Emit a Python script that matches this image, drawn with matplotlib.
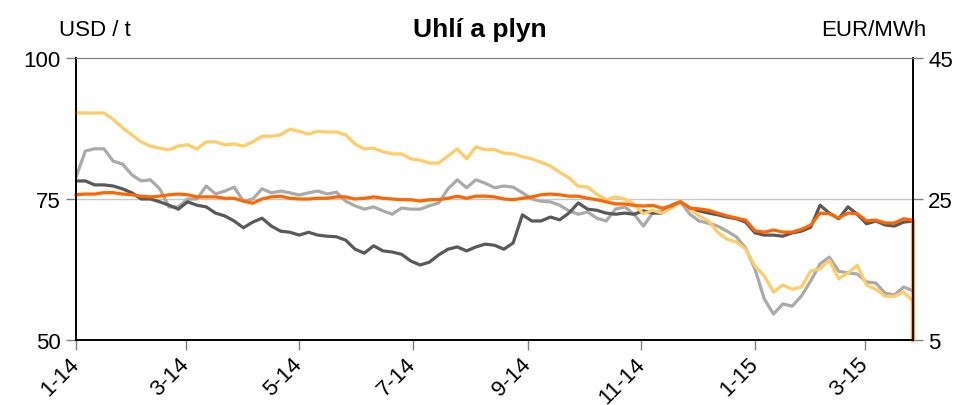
import matplotlib
matplotlib.use("Agg")
import matplotlib.pyplot as plt
import matplotlib.dates as mdates
from matplotlib.ticker import FuncFormatter
import pandas as pd

plt.rcParams["font.family"] = ["Liberation Sans", "DejaVu Sans"]

# x grid: every 5 days from 1 Jan 2014
dates = pd.date_range("2014-01-01", periods=91, freq="5D")

# coal, USD / t (left axis)
coal_dark = [
    78.2, 78.2, 77.5, 77.5, 77.3, 76.8, 76.1, 75.0, 75.0, 74.5,
    73.9, 73.2, 74.5, 73.9, 73.6, 72.5, 72.0, 71.1, 69.9, 70.9,
    71.6, 70.2, 69.3, 69.1, 68.6, 69.1, 68.6, 68.4, 68.3, 67.7,
    66.1, 65.4, 66.7, 65.8, 65.6, 65.2, 64.0, 63.3, 63.8, 65.1,
    66.1, 66.5, 65.8, 66.5, 67.0, 66.8, 66.1, 67.2, 72.2, 71.1,
    71.1, 71.8, 71.3, 72.5, 74.3, 73.2, 73.0, 72.5, 72.3, 72.5,
    72.3, 72.9, 72.5, 72.5, 73.8, 74.5, 73.4, 72.9, 72.5, 72.2,
    71.8, 71.5, 70.9, 69.0, 68.6, 68.6, 68.4, 69.0, 69.3, 70.0,
    73.9, 72.5, 71.5, 73.6, 72.3, 70.6, 71.1, 70.4, 70.2, 70.9,
    71.1,
]
coal_light = [
    78.9, 83.5, 83.9, 83.9, 81.7, 81.2, 79.3, 78.2, 78.4, 76.8,
    73.6, 73.6, 75.0, 75.0, 77.3, 75.9, 76.4, 77.1, 74.6, 75.0,
    76.8, 76.1, 76.4, 76.1, 75.7, 76.1, 76.4, 75.9, 76.2, 74.6,
    73.8, 73.2, 73.6, 72.9, 72.3, 73.4, 73.2, 73.2, 73.8, 74.3,
    76.8, 78.4, 77.0, 78.4, 77.8, 77.0, 77.3, 77.1, 76.1, 75.0,
    74.6, 74.5, 73.9, 72.9, 72.3, 72.7, 71.6, 71.1, 73.2, 73.6,
    72.3, 70.2, 72.5, 72.9, 73.9, 74.5, 72.3, 71.1, 70.7, 70.2,
    69.3, 68.3, 66.3, 62.6, 57.3, 54.6, 56.4, 56.0, 57.8, 60.5,
    63.5, 64.7, 62.2, 61.9, 61.7, 60.3, 60.1, 58.3, 58.0, 59.4,
    58.7,
]

# gas, EUR/MWh (right axis)
gas_yellow = [
    37.2, 37.2, 37.2, 37.2, 36.3, 35.1, 34.1, 33.1, 32.5, 32.2,
    32.0, 32.5, 32.7, 32.1, 33.1, 33.1, 32.7, 32.8, 32.5, 33.1,
    33.9, 33.9, 34.1, 34.9, 34.6, 34.2, 34.6, 34.5, 34.5, 34.1,
    32.8, 32.1, 32.2, 31.7, 31.4, 31.4, 30.7, 30.5, 30.1, 30.1,
    31.1, 32.1, 30.7, 32.4, 32.0, 32.0, 31.5, 31.4, 31.0, 30.7,
    30.2, 29.7, 28.8, 28.0, 26.8, 26.7, 25.7, 24.9, 25.3, 25.0,
    24.3, 22.9, 23.4, 23.0, 23.7, 24.6, 23.6, 22.6, 21.9, 20.3,
    19.3, 18.9, 17.9, 15.5, 14.1, 11.8, 12.8, 12.2, 12.5, 14.8,
    15.1, 16.3, 13.7, 14.5, 15.6, 12.8, 12.2, 11.2, 11.2, 11.8,
    10.5,
]
gas_orange = [
    25.6, 25.7, 25.7, 25.9, 25.9, 25.7, 25.6, 25.4, 25.3, 25.4,
    25.6, 25.7, 25.6, 25.3, 25.3, 25.3, 25.1, 25.1, 24.7, 24.4,
    25.0, 25.3, 25.4, 25.1, 25.0, 25.0, 25.1, 25.1, 25.3, 25.3,
    25.0, 25.1, 25.3, 25.1, 25.0, 24.9, 24.9, 24.7, 24.9, 24.9,
    25.1, 25.4, 25.1, 25.4, 25.4, 25.3, 25.0, 24.9, 25.1, 25.3,
    25.6, 25.7, 25.6, 25.4, 25.4, 25.1, 24.9, 24.6, 24.3, 24.3,
    24.1, 24.0, 24.1, 23.7, 24.0, 24.6, 23.7, 23.6, 23.4, 23.0,
    22.6, 22.3, 22.0, 20.5, 20.3, 20.6, 20.3, 20.3, 20.7, 21.3,
    23.0, 22.9, 22.3, 23.0, 22.9, 21.9, 22.0, 21.6, 21.6, 22.2,
    22.0,
]
# both gas series fall to the floor of the axis on the last day
gas_end = 5

fig = plt.figure(figsize=(9.61, 4.06), dpi=100)
ax = fig.add_axes([0.0791, 0.1601, 0.8710, 0.6946])

ax.axhline(75, color="#c8c8c8", lw=1, zorder=0)
ax.plot(dates, coal_light, color="#aaaaaa", lw=2.3)
ax.plot(dates, coal_dark, color="#595959", lw=2.3)
ax.set_ylim(50, 100)
ax.set_yticks([50, 75, 100])
ax.set_xlim(dates[0], dates[-1])
ax.xaxis.set_major_locator(mdates.MonthLocator(bymonth=[1, 3, 5, 7, 9, 11]))
ax.xaxis.set_major_formatter(FuncFormatter(
    lambda x, p: f"{mdates.num2date(x).month}-{mdates.num2date(x):%y}"))

gas_dates = dates.append(dates[-1:])
ax2 = ax.twinx()
ax2.plot(gas_dates, gas_yellow + [gas_end], color="#ffcc66", lw=2.3, clip_on=False)
ax2.plot(gas_dates, gas_orange + [gas_end], color="#ff6600", lw=2.3, clip_on=False)
ax2.set_ylim(5, 45)
ax2.set_yticks([5, 25, 45])

for a in (ax, ax2):
    a.spines["top"].set_color("#808080")
    a.spines["left"].set_linewidth(1.2)
    a.spines["right"].set_linewidth(1.2)
    a.spines["bottom"].set_linewidth(1.2)
    a.tick_params(axis="both", labelsize=16, length=7, width=1, color="#808080", pad=4)

ax.tick_params(axis="x", pad=8)
plt.setp(ax.get_xticklabels(), rotation=45, ha="right", va="center", rotation_mode="anchor")

fig.text(0.4995, 0.925, "Uhlí a plyn", ha="center", va="center", fontsize=19, fontweight="bold")
fig.text(0.099, 0.925, "USD / t", ha="center", va="center", fontsize=16)
fig.text(0.909, 0.925, "EUR/MWh", ha="center", va="center", fontsize=16)

fig.savefig("out.png", dpi=100)
